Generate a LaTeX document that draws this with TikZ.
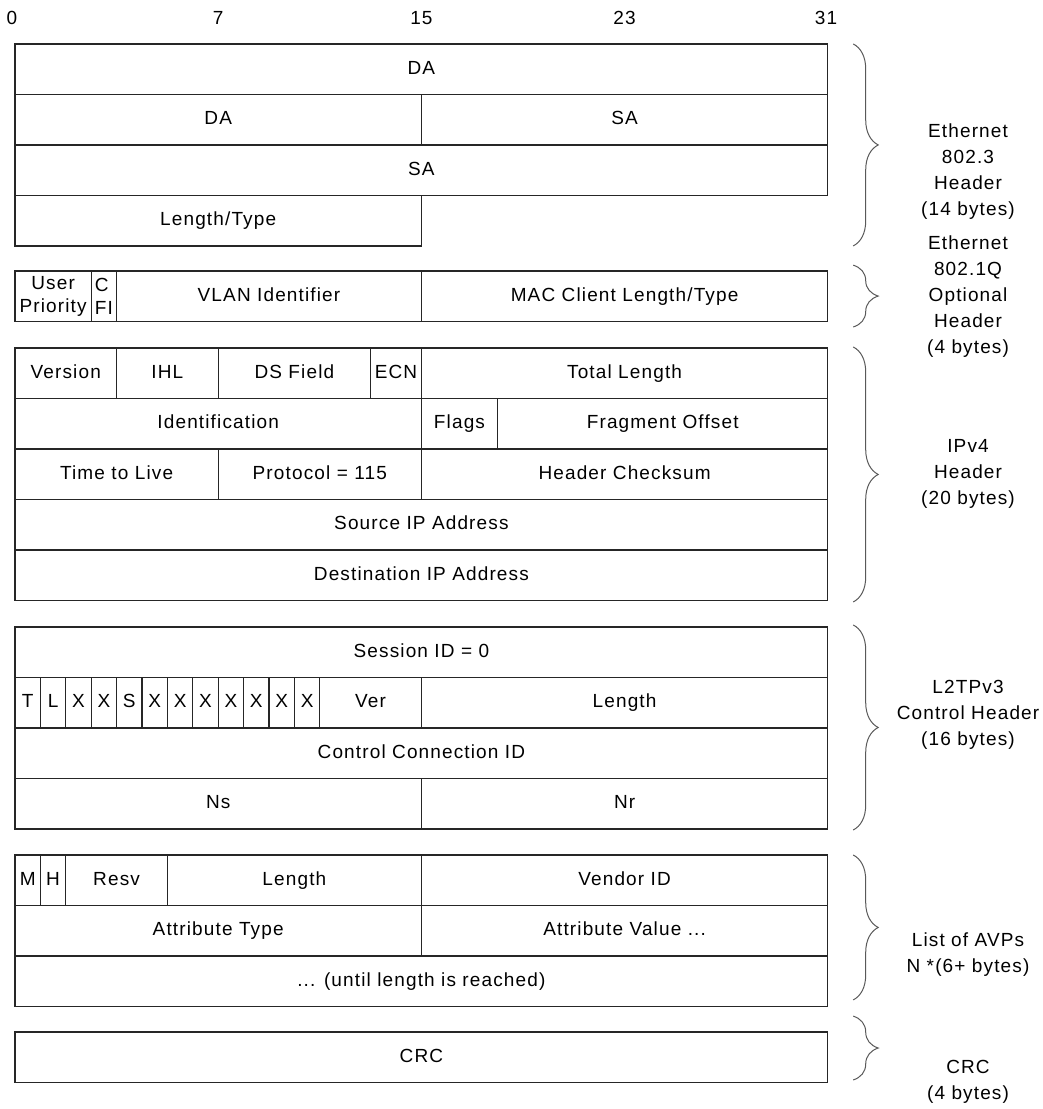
\documentclass[tikz,border=0pt]{standalone}
\usepackage{fontspec}
\setmainfont{Liberation Sans}[LetterSpace=6]
\usetikzlibrary{decorations.pathreplacing}

\begin{document}
\begin{tikzpicture}[x=25.4pt,y=-25.25pt,
  fld/.style={draw=black!85,line width=1.2pt,nodes={text height=13.6pt,text depth=3.8pt}},
  brc/.style={draw=black!65,line width=1pt,decorate,decoration={brace,amplitude=25pt}},
  every node/.style={font=\fontsize{19}{26}\selectfont,inner sep=1pt},
  tight/.style={font=\fontsize{19}{23}\selectfont}]
\useasboundingbox (-0.59,0) rectangle (40.47,43.92);
% bit numbers
\node (b0) at (-0.12,0.71) {0};
\node (b7) at (8,0.71) {7};
\node (b15) at (16,0.71) {15};
\node (b23) at (24,0.71) {23};
\node (b31) at (31.93,0.71) {31};
% Ethernet 802.3
\begin{scope}[shift={(0,1.74)}]
\draw[fld] (0,0) rectangle (32,2) node[midway] (da1) {DA};
\draw[fld] (0,2) rectangle (16,4) node[midway] (da2) {DA};
\draw[fld] (16,2) rectangle (32,4) node[midway] (sa1) {SA};
\draw[fld] (0,4) rectangle (32,6) node[midway] (sa2) {SA};
\draw[fld] (0,6) rectangle (16,8) node[midway] (ltype) {Length/Type};
\end{scope}
% 802.1Q tag
\begin{scope}[shift={(0,10.73)}]
\draw[fld] (0,0) rectangle (3,2);
\node[tight,align=center] (prio) at (1.5,1) {User\\Priority};
\draw[fld] (3,0) rectangle (4,2);
\node[tight,align=left] (cfi) at (3.5,1) {C\\FI};
\draw[fld] (4,0) rectangle (16,2) node[midway] (vid) {VLAN Identifier};
\draw[fld] (16,0) rectangle (32,2) node[midway] (mactype) {MAC Client Length/Type};
\end{scope}
% IPv4
\begin{scope}[shift={(0,13.78)}]
\draw[fld] (0,0) rectangle (4,2) node[midway] (ver) {Version};
\draw[fld] (4,0) rectangle (8,2) node[midway] (ihl) {IHL};
\draw[fld] (8,0) rectangle (14,2) node[midway] (ds) {DS Field};
\draw[fld] (14,0) rectangle (16,2) node[midway] (ecn) {ECN};
\draw[fld] (16,0) rectangle (32,2) node[midway] (totlen) {Total Length};
\draw[fld] (0,2) rectangle (16,4) node[midway] (ident) {Identification};
\draw[fld] (16,2) rectangle (19,4) node[midway] (flags) {Flags};
\draw[fld] (19,2) rectangle (32,4) node[midway] (frag) {Fragment Offset};
\draw[fld] (0,4) rectangle (8,6) node[midway] (ttl) {Time to Live};
\draw[fld] (8,4) rectangle (16,6) node[midway] (proto) {Protocol = 115};
\draw[fld] (16,4) rectangle (32,6) node[midway] (csum) {Header Checksum};
\draw[fld] (0,6) rectangle (32,8) node[midway] (srcip) {Source IP Address};
\draw[fld] (0,8) rectangle (32,10) node[midway] (dstip) {Destination IP Address};
\end{scope}
% L2TPv3 control header
\begin{scope}[shift={(0,24.83)}]
\draw[fld] (0,0) rectangle (32,2) node[midway] (sess) {Session ID = 0};
\foreach \t [count=\i from 0] in {T,L,X,X,S,X,X,X,X,X,X,X}
  \draw[fld] (\i,2) rectangle ++(1,2) node[midway] (flag\i) {\t};
\draw[fld] (12,2) rectangle (16,4) node[midway] (l2ver) {Ver};
\draw[fld] (16,2) rectangle (32,4) node[midway] (l2len) {Length};
\draw[fld] (0,4) rectangle (32,6) node[midway] (ccid) {Control Connection ID};
\draw[fld] (0,6) rectangle (16,8) node[midway] (ns) {Ns};
\draw[fld] (16,6) rectangle (32,8) node[midway] (nr) {Nr};
\end{scope}
% AVPs
\begin{scope}[shift={(0,33.86)}]
\draw[fld] (0,0) rectangle (1,2) node[midway] (mbit) {M};
\draw[fld] (1,0) rectangle (2,2) node[midway] (hbit) {H};
\draw[fld] (2,0) rectangle (6,2) node[midway] (resv) {Resv};
\draw[fld] (6,0) rectangle (16,2) node[midway] (avplen) {Length};
\draw[fld] (16,0) rectangle (32,2) node[midway] (vendor) {Vendor ID};
\draw[fld] (0,2) rectangle (16,4) node[midway] (atype) {Attribute Type};
\draw[fld] (16,2) rectangle (32,4) node[midway] (aval) {Attribute Value ...};
\draw[fld] (0,4) rectangle (32,6) node[midway] (until) {... (until length is reached)};
\end{scope}
% CRC
\begin{scope}[shift={(0,40.87)}]
\draw[fld] (0,0) rectangle (32,2) node[midway] (crc) {CRC};
\end{scope}
% braces and their labels
\draw[brc] (33,1.74) -- (33,9.74);
\draw[brc] (33,10.5) -- (33,12.95);
\draw[brc] (33,13.74) -- (33,23.84);
\draw[brc] (33,24.75) -- (33,32.87);
\draw[brc] (33,33.86) -- (33,39.6);
\draw[brc] (33,40.24) -- (33,42.77);
\node[align=center] (ethlbl) at (37.52,6.81) {Ethernet\\802.3\\Header\\(14 bytes)};
\node[align=center] (vlanlbl) at (37.52,11.76) {Ethernet\\802.1Q\\Optional\\Header\\(4 bytes)};
\node[align=center] (iplbl) at (37.52,18.77) {IPv4\\Header\\(20 bytes)};
\node[align=center] (l2lbl) at (37.52,28.32) {L2TPv3\\Control Header\\(16 bytes)};
\node[align=center] (avplbl) at (37.52,37.82) {List of AVPs\\N *(6+ bytes)};
\node[align=center] (crclbl) at (37.52,42.85) {CRC\\(4 bytes)};
\end{tikzpicture}
\end{document}
